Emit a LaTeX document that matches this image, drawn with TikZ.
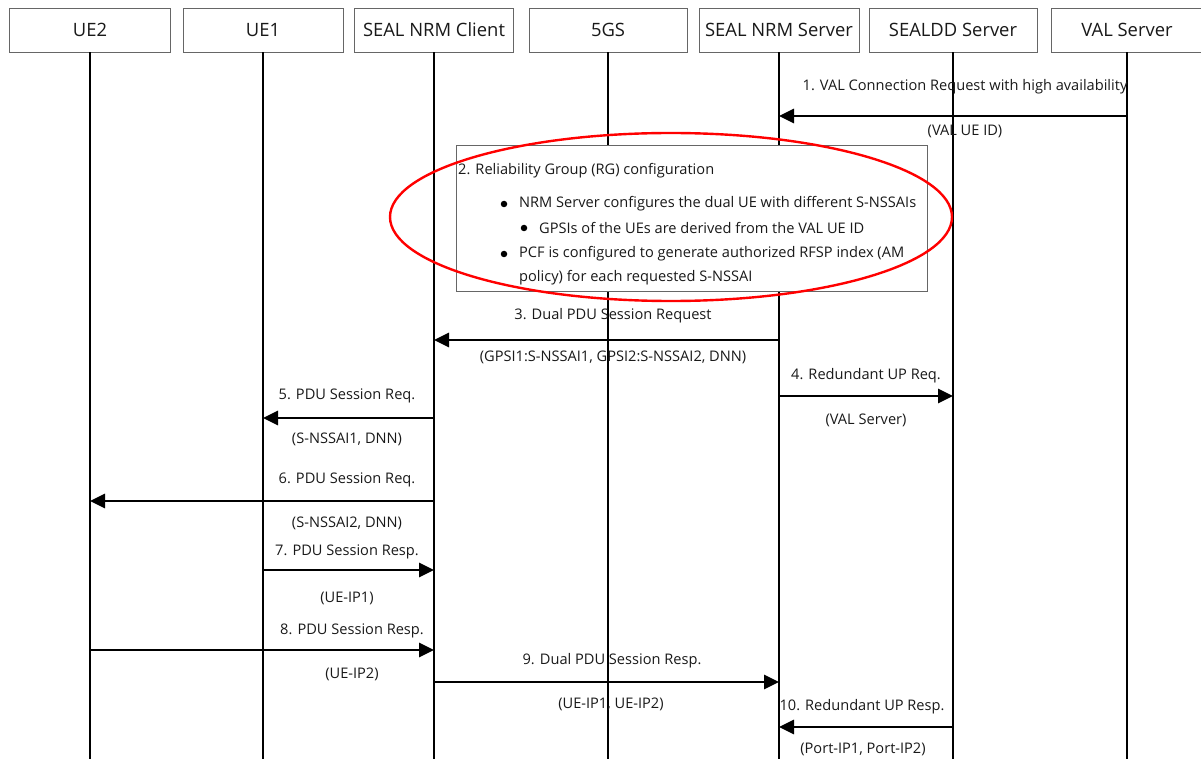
\documentclass[tikz,border=0pt]{standalone}
\usepackage{fontspec}
\setmainfont{Open Sans}
\usetikzlibrary{arrows.meta, positioning}

\begin{document}
\begin{tikzpicture}[x=1pt, y=-1pt,
    every node/.style={font=\fontsize{14.6}{17}\selectfont, text=black!90},
    entity/.style={draw=black!60, line width=0.9pt, fill=white, minimum width=160pt,
        minimum height=44pt, inner sep=0pt, font=\fontsize{18.4}{20}\selectfont},
    life/.style={line width=1.9pt},
    msg/.style={line width=2.7pt, -{Triangle[length=15pt, width=14pt]}},
    rgline/.style={anchor=west, inner sep=0pt},
    dot/.style={circle, fill=black, inner sep=0pt, minimum size=6.5pt}]
    \useasboundingbox (0,0) rectangle (1201,759);

    \node[entity, minimum width=161pt] (ue2) at (90,30) {UE2};
    \node[entity] (ue1) at (263,30) {UE1};
    \node[entity, minimum width=159pt] (client) at (434,30) {SEAL NRM Client};
    \node[entity, minimum width=158pt] (fivegs) at (608,30) {5GS};
    \node[entity] (nrms) at (779,30) {SEAL NRM Server};
    \node[entity, minimum width=168pt] (sealdd) at (953,30) {SEALDD Server};
    \node[entity, minimum width=152pt] (val) at (1127,30) {VAL Server};

    \coordinate (bottom) at (0,759);
    \foreach \n in {ue2,ue1,client,fivegs,nrms,sealdd,val}
        \draw[life] (\n.south) -- (\n.south |- bottom);

    % message rows
    \coordinate (r1) at (0,116);
    \coordinate (r3) at (0,340);
    \coordinate (r4) at (0,396);
    \coordinate (r5) at (0,418);
    \coordinate (r6) at (0,501);
    \coordinate (r7) at (0,570);
    \coordinate (r8) at (0,650);
    \coordinate (r9) at (0,682);
    \coordinate (r10) at (0,727);

    \draw[msg] (val |- r1) -- (nrms |- r1);
    \node (m1) at (965,87) {1. VAL Connection Request with high availability};
    \node (p1) at (965,131) {(VAL UE ID)};

    \node[draw=black!60, line width=0.8pt, fill=white, minimum width=471pt,
        minimum height=146pt, inner sep=0pt] (rg) at (691.5,218) {};
    \node[rgline] (rg0) at (458,171) {2. Reliability Group (RG) configuration};
    \node[dot] (b1) at (504,204) {};
    \node[rgline] (rg1) at (519,204) {NRM Server configures the dual UE with different S-NSSAIs};
    \node[dot] (b2) at (524,228) {};
    \node[rgline] (rg2) at (539,228) {GPSIs of the UEs are derived from the VAL UE ID};
    \node[dot] (b3) at (504,254) {};
    \node[rgline] (rg3) at (519,254) {PCF is configured to generate authorized RFSP index (AM};
    \node[rgline] (rg4) at (519,278) {policy) for each requested S-NSSAI};
    \draw[red, line width=2.4pt] (671,217) ellipse [x radius=281, y radius=84];

    \draw[msg] (nrms |- r3) -- (client |- r3);
    \node (m3) at (613,316) {3. Dual PDU Session Request};
    \node (p3) at (613,357) {(GPSI1:S-NSSAI1, GPSI2:S-NSSAI2, DNN)};

    \draw[msg] (nrms |- r4) -- (sealdd |- r4);
    \node (m4) at (866,376) {4. Redundant UP Req.};
    \node (p4) at (866,420) {(VAL Server)};

    \draw[msg] (client |- r5) -- (ue1 |- r5);
    \node (m5) at (347,396) {5. PDU Session Req.};
    \node (p5) at (347,439) {(S-NSSAI1, DNN)};

    \draw[msg] (client |- r6) -- (ue2 |- r6);
    \node (m6) at (347,480) {6. PDU Session Req.};
    \node (p6) at (347,523) {(S-NSSAI2, DNN)};

    \draw[msg] (ue1 |- r7) -- (client |- r7);
    \node (m7) at (347,552) {7. PDU Session Resp.};
    \node (p7) at (347,598) {(UE-IP1)};

    \draw[msg] (ue2 |- r8) -- (client |- r8);
    \node (m8) at (352,631) {8. PDU Session Resp.};
    \node (p8) at (352,674) {(UE-IP2)};

    \draw[msg] (client |- r9) -- (nrms |- r9);
    \node (m9) at (612,661) {9. Dual PDU Session Resp.};
    \node (p9) at (611,704) {(UE-IP1, UE-IP2)};

    \draw[msg] (sealdd |- r10) -- (nrms |- r10);
    \node (m10) at (862,707) {10. Redundant UP Resp.};
    \node (p10) at (863,749) {(Port-IP1, Port-IP2)};
\end{tikzpicture}
\end{document}
